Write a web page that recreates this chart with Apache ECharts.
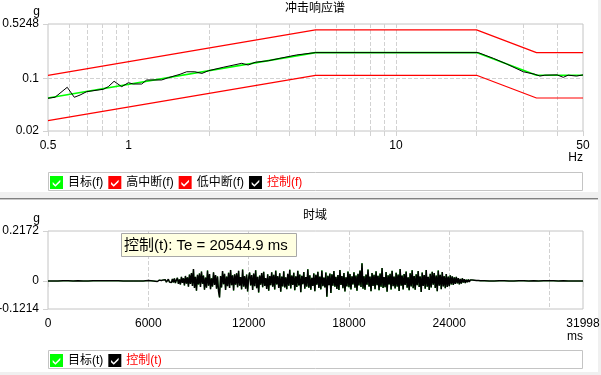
<!DOCTYPE html>
<html><head><meta charset="utf-8">
<script src="https://cdn.jsdelivr.net/npm/echarts@6.0.0/dist/echarts.min.js"></script>
<style>html,body{margin:0;padding:0;background:#fff}#c{width:601px;height:375px}</style>
</head><body><div id="c"></div>
<script>
// ---- Shock response spectrum (top) ----
const srsFreq   = [0.5, 5, 20, 33.5, 50];
const targetSrs = [0.0548, 0.219, 0.219, 0.1096, 0.1096];
const highAbort = [0.1096, 0.438, 0.438, 0.219, 0.219];
const lowAbort  = [0.0274, 0.1096, 0.1096, 0.0548, 0.0548];

const ctrlFreq = [0.5, 0.531, 0.59, 0.627, 0.659, 0.697, 0.805, 0.84, 0.883, 0.943, 0.999, 1.042, 1.12, 1.17, 1.33, 1.41, 1.558, 1.65, 1.77, 1.88, 1.99, 2.26, 2.65, 2.8, 2.97, 3.33, 3.68, 4.25, 4.99, 20.3, 23.1, 25.9, 29.9, 33.1, 34.5, 36, 40, 42.2, 44, 47.3, 50];
const ctrlSrs  = [0.0543, 0.056, 0.076, 0.056, 0.060, 0.0664, 0.0715, 0.0774, 0.0912, 0.0774, 0.0874, 0.084, 0.084, 0.095, 0.095, 0.102, 0.113, 0.122, 0.122, 0.116, 0.126, 0.140, 0.158, 0.150, 0.163, 0.171, 0.184, 0.204, 0.219, 0.219, 0.184, 0.155, 0.122, 0.113, 0.107, 0.110, 0.111, 0.103, 0.110, 0.107, 0.111];

const freqGrid   = [0.5, 0.6, 0.7, 0.8, 0.9, 1, 2, 3, 4, 5, 6, 7, 8, 9, 10, 20, 30, 40, 50];
const freqLabels = [0.5, 1, 10, 50];
const srsYTicks  = [0.02, 0.1, 0.5248];

// ---- Time domain (bottom) ----
const preStart = 0, preStep = 300;
const preVals = [0, 0, 0, 0.001, 0.001, 0, 0.001, 0, 0, 0.001, 0.001, 0.001, 0.001, 0.001, 0.001, 0, 0, 0, 0, 0, 0.002];
const sigStart = 6300, sigStep = 60;
const sigVals = [
 0.000, 0.002, -0.001, 0.003, -0.002, 0.001, 0.004, -0.003, 0.002, -0.004,
 0.005, -0.002, 0.006, -0.005, 0.003, 0.008, -0.004, 0.002, -0.007, 0.009,
 -0.006, 0.011, -0.009, 0.004, 0.014, -0.012, 0.007, -0.015, 0.018, -0.008,
 0.012, -0.019, 0.022, -0.011, 0.016, -0.024, 0.028, -0.013, 0.035, -0.021,
 0.052, -0.030, 0.018, -0.042, 0.027, -0.015, 0.033, -0.026, 0.041, -0.012,
 0.024, -0.038, 0.015, -0.029, 0.046, -0.020, 0.030, -0.035, 0.012, -0.024,
 0.038, -0.017, 0.026, -0.033, 0.020, -0.045, -0.071, 0.022, -0.028, 0.043,
 -0.014, 0.031, -0.039, 0.019, -0.022, 0.036, -0.030, 0.048, -0.018, 0.025,
 -0.041, 0.029, -0.016, 0.034, -0.027, 0.044, -0.020, 0.017, -0.036, 0.050,
 -0.024, 0.021, -0.033, 0.028, -0.045, 0.015, 0.037, -0.019, 0.026, -0.039,
 0.032, -0.022, 0.047, -0.031, 0.018, -0.050, 0.024, -0.016, 0.035, -0.027,
 0.040, -0.021, 0.013, -0.034, 0.029, -0.042, 0.022, -0.018, 0.038, -0.025,
 0.027, -0.037, 0.045, -0.015, 0.021, -0.030, 0.034, -0.046, 0.019, -0.023,
 0.042, -0.028, 0.016, -0.035, 0.031, -0.020, 0.049, -0.032, 0.024, -0.017,
 0.036, -0.040, 0.020, -0.026, 0.044, -0.019, 0.028, -0.048, 0.023, -0.014,
 0.039, -0.033, 0.017, -0.024, 0.051, -0.029, 0.025, -0.038, 0.014, -0.021,
 0.033, -0.044, 0.027, -0.016, 0.040, -0.030, 0.019, -0.036, 0.046, -0.022,
 0.015, -0.028, 0.037, -0.068, 0.023, -0.018, 0.032, -0.052, 0.029, -0.020,
 0.043, -0.025, 0.018, -0.034, 0.026, -0.039, 0.048, -0.017, 0.022, -0.031,
 0.035, -0.045, 0.016, -0.023, 0.041, -0.027, 0.030, -0.036, 0.020, -0.015,
 0.038, -0.029, 0.024, -0.042, 0.031, -0.019, 0.045, -0.026, 0.077, -0.033,
 0.021, -0.038, 0.028, -0.016, 0.050, -0.024, 0.019, -0.044, 0.035, -0.021,
 0.027, -0.035, 0.042, -0.018, 0.023, -0.040, 0.033, -0.025, 0.056, -0.030,
 0.017, -0.027, 0.039, -0.046, 0.025, -0.015, 0.031, -0.037, 0.044, -0.022,
 0.019, -0.032, 0.036, -0.024, 0.028, -0.043, 0.052, -0.020, 0.024, -0.036,
 0.030, -0.017, 0.041, -0.029, 0.016, -0.040, 0.034, -0.023, 0.047, -0.031,
 0.022, -0.038, 0.029, -0.018, 0.043, -0.026, 0.020, -0.047, 0.037, -0.021,
 0.026, -0.033, 0.048, -0.025, 0.018, -0.039, 0.031, -0.028, 0.040, -0.016,
 0.035, -0.030, 0.024, -0.044, 0.046, -0.020, 0.027, -0.035, 0.039, -0.023,
 0.021, -0.031, 0.030, -0.026, 0.019, -0.022, 0.025, -0.015, 0.020, -0.017,
 0.016, -0.012, 0.018, -0.010, 0.013, -0.014, 0.009, -0.011, 0.012, -0.007,
 0.008, -0.009, 0.006, -0.005, 0.007, -0.004, 0.005, -0.003, 0.004, -0.002,
 0.003, -0.002, 0.002, -0.001, 0.002, 0.000, 0.001, -0.001, 0.001, 0.000
];
const postStart = 26100, timeEnd = 31998;
const postVals = [0.001, 0, 0, 0.001, 0.001, 0, 0, 0.001, 0.001, 0, 0.001, 0, 0.001, 0.001, 0.001, 0, 0.001, 0, 0, 0, 0];

const timeGrid   = [0, 6000, 12000, 18000, 24000, 30000, 31998];
const timeLabels = [0, 6000, 12000, 18000, 24000, 31998];
const timeYTicks = [-0.1214, 0, 0.2172];
const teText = '控制(t): Te = 20544.9 ms';

// ---- build pairs ----
const zip = (xs, ys) => xs.map((x, i) => [x, ys[i]]);
const timeData = [];
preVals.forEach((v, i) => timeData.push([preStart + i * preStep, v]));
sigVals.forEach((v, i) => timeData.push([sigStart + i * sigStep, v]));
const postStep = (timeEnd - postStart) / (postVals.length - 1);
postVals.forEach((v, i) => timeData.push([postStart + i * postStep, v]));

const NUM_FONT = '"Liberation Sans", Arial, sans-serif';
const CJK_FONT = '"Liberation Sans", "Noto Sans CJK SC", sans-serif';
const GRID_C = '#d2d2d2';
const BORDER_C = '#c4c4c4';
const CHECK = 'path://M0 0H12V12H0Z M2.5 5.5L2.5 7.5L5 10L9.5 5.5L9.5 3.5L5 8Z';

const labelStyle = {color: '#000', fontSize: 12, fontFamily: NUM_FONT};
const nameStyleY = {color: '#000', fontSize: 12, fontFamily: NUM_FONT, align: 'right', verticalAlign: 'bottom', padding: [0, 8, 0, 0]};
const nameStyleX = {color: '#000', fontSize: 12, fontFamily: NUM_FONT, align: 'right', verticalAlign: 'top', padding: [21, 0, 0, 0]};

const chart = echarts.init(document.getElementById('c'));
chart.setOption({
  animation: false,
  backgroundColor: '#fff',
  title: [
    {text: '冲击响应谱', left: 315, top: 3, padding: 0, textAlign: 'center',
     textStyle: {fontSize: 12, fontWeight: 'normal', color: '#000', fontFamily: CJK_FONT}},
    {text: '时域', left: 315, top: 210, padding: 0, textAlign: 'center',
     textStyle: {fontSize: 12, fontWeight: 'normal', color: '#000', fontFamily: CJK_FONT}}
  ],
  grid: [
    {left: 48, right: 18, top: 24, height: 107, show: true, borderColor: BORDER_C, borderWidth: 1, backgroundColor: 'transparent', outerBoundsMode: 'none', containLabel: false},
    {left: 48, right: 18, top: 231, height: 78, show: true, borderColor: BORDER_C, borderWidth: 1, backgroundColor: 'transparent', outerBoundsMode: 'none', containLabel: false}
  ],
  legend: [
    {left: 50, top: 176, padding: 0, itemGap: 5, itemWidth: 13, itemHeight: 13, icon: CHECK,
     selectedMode: false, itemStyle: {borderWidth: 0},
     textStyle: {fontSize: 12, color: '#000', fontFamily: CJK_FONT},
     data: [{name: '目标(f)'}, {name: '高中断(f)'}, {name: '低中断(f)'}, {name: '控制(f)', textStyle: {color: '#ff0000'}}]},
    {left: 50, top: 354, padding: 0, itemGap: 5, itemWidth: 13, itemHeight: 13, icon: CHECK,
     selectedMode: false, itemStyle: {borderWidth: 0},
     textStyle: {fontSize: 12, color: '#000', fontFamily: CJK_FONT},
     data: [{name: '目标(t)'}, {name: '控制(t)', textStyle: {color: '#ff0000'}}]}
  ],
  xAxis: [
    {gridIndex: 0, type: 'log', logBase: 10, min: 0.5, max: 50,
     axisLine: {show: false},
     axisTick: {show: true, length: 5, customValues: freqGrid, lineStyle: {color: GRID_C}},
     axisLabel: {customValues: freqLabels, margin: 9, ...labelStyle, formatter: v => String(v)},
     splitLine: {show: true, showMinLine: false, showMaxLine: false, lineStyle: {type: 'dashed', color: GRID_C}},
     name: 'Hz', nameLocation: 'end', nameGap: 0, nameMoveOverlap: false, nameTextStyle: nameStyleX},
    {gridIndex: 1, type: 'value', min: 0, max: timeEnd,
     axisLine: {show: false},
     axisTick: {show: true, length: 6, customValues: timeGrid, lineStyle: {color: GRID_C}},
     axisLabel: {customValues: timeLabels, margin: 9, ...labelStyle, formatter: v => String(v)},
     splitLine: {show: true, showMinLine: false, showMaxLine: false, lineStyle: {type: 'dashed', color: GRID_C}}}
  ],
  yAxis: [
    {gridIndex: 0, type: 'log', logBase: 10, min: 0.02, max: 0.5248,
     axisLine: {show: false},
     axisTick: {show: true, length: 5, customValues: srsYTicks, lineStyle: {color: GRID_C}},
     axisLabel: {customValues: srsYTicks, margin: 9, ...labelStyle, formatter: v => String(v)},
     splitLine: {show: true, showMinLine: false, showMaxLine: false, lineStyle: {type: 'dashed', color: GRID_C}},
     name: 'g', nameLocation: 'end', nameGap: 6, nameMoveOverlap: false, nameTextStyle: nameStyleY},
    {gridIndex: 1, type: 'value', min: -0.1214, max: 0.2172,
     axisLine: {show: false},
     axisTick: {show: true, length: 5, customValues: timeYTicks, lineStyle: {color: GRID_C}},
     axisLabel: {customValues: timeYTicks, margin: 9, ...labelStyle, formatter: v => String(v)},
     splitLine: {show: false},
     name: 'g', nameLocation: 'end', nameGap: 6, nameMoveOverlap: false, nameTextStyle: nameStyleY}
  ],
  series: [
    {name: '目标(f)', type: 'line', xAxisIndex: 0, yAxisIndex: 0, color: '#00ff00', symbol: 'none', z: 2,
     lineStyle: {width: 1.6, color: '#00ff00'}, data: zip(srsFreq, targetSrs)},
    {name: '高中断(f)', type: 'line', xAxisIndex: 0, yAxisIndex: 0, color: '#ff0000', symbol: 'none', z: 2,
     lineStyle: {width: 1.2, color: '#ff0000'}, data: zip(srsFreq, highAbort)},
    {name: '低中断(f)', type: 'line', xAxisIndex: 0, yAxisIndex: 0, color: '#ff0000', symbol: 'none', z: 2,
     lineStyle: {width: 1.2, color: '#ff0000'}, data: zip(srsFreq, lowAbort)},
    {name: '控制(f)', type: 'line', xAxisIndex: 0, yAxisIndex: 0, color: '#000000', symbol: 'none', z: 3,
     lineStyle: {width: 1, color: '#000000'}, data: zip(ctrlFreq, ctrlSrs)},
    {name: '目标(t)', type: 'line', xAxisIndex: 1, yAxisIndex: 1, color: '#00ff00', symbol: 'none', z: 2,
     lineStyle: {width: 0.8, color: '#00ff00'}, data: timeData},
    {name: '控制(t)', type: 'line', xAxisIndex: 1, yAxisIndex: 1, color: '#000000', symbol: 'none', z: 3,
     lineStyle: {width: 1.5, color: '#000000'}, data: timeData}
  ],
  graphic: [
    {type: 'rect', silent: true, z: 0, shape: {x: 0, y: 192, width: 601, height: 6}, style: {fill: '#f0f0f0'}},
    {type: 'rect', silent: true, z: 0, shape: {x: 0, y: 198, width: 601, height: 1}, style: {fill: '#808080'}},
    {type: 'rect', silent: true, z: 0, shape: {x: 0, y: 199, width: 601, height: 1}, style: {fill: '#c8c8c8'}},
    {type: 'rect', silent: true, z: 0, shape: {x: 598, y: 0, width: 3, height: 375}, style: {fill: '#f0f0f0'}},
    {type: 'rect', silent: true, z: 0, shape: {x: 0, y: 372, width: 601, height: 3}, style: {fill: '#f0f0f0'}},
    {type: 'rect', silent: true, z: 0, shape: {x: 48.5, y: 172.5, width: 534, height: 18}, style: {fill: 'none', stroke: BORDER_C, lineWidth: 1}},
    {type: 'rect', silent: true, z: 0, shape: {x: 48.5, y: 350.5, width: 534, height: 18}, style: {fill: 'none', stroke: BORDER_C, lineWidth: 1}},
    {type: 'text', silent: true, z: 5, x: 583, y: 331, style: {text: 'ms', fill: '#000', font: '12px ' + NUM_FONT, align: 'right', verticalAlign: 'top'}},
    {type: 'rect', silent: true, z: 100, shape: {x: 121.5, y: 233.5, width: 175, height: 23}, style: {fill: '#ffffe1', stroke: '#a8a8a8', lineWidth: 1}},
    {type: 'text', silent: true, z: 101, x: 124, y: 245.5, style: {text: teText, fill: '#000', font: '15px ' + CJK_FONT, verticalAlign: 'middle', align: 'left'}}
  ]
});
</script>
</body></html>
